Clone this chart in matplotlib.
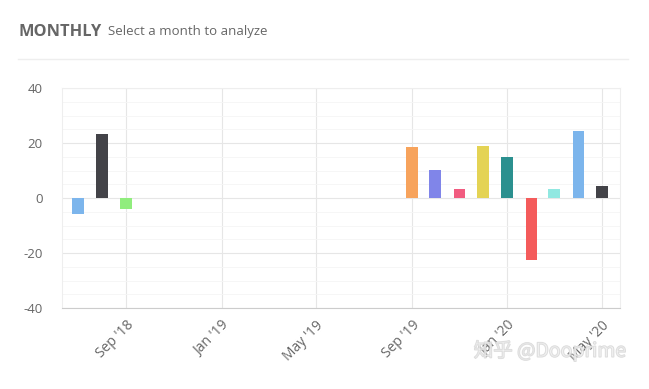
import numpy as np
import matplotlib.pyplot as plt
import matplotlib.dates as mdates
import matplotlib.patheffects as pe
from datetime import date, timedelta

# monthly returns (%)
months = ["2018-07", "2018-08", "2018-09",
          "2019-09", "2019-10", "2019-11", "2019-12",
          "2020-01", "2020-02", "2020-03", "2020-04", "2020-05"]
values = [-5.8, 23.3, -4.1,
          18.7, 10.2, 3.4, 18.9,
          14.9, -22.5, 3.4, 24.4, 4.4]
colors = ["#7cb5ec", "#434348", "#90ed7d",
          "#f7a35c", "#8085e9", "#f15c80", "#e4d354",
          "#2b908f", "#f45b5b", "#91e8e1", "#7cb5ec", "#434348"]
tick_months = ["2018-09", "2019-01", "2019-05", "2019-09", "2020-01", "2020-05"]
tick_labels = ["Sep '18", "Jan '19", "May '19", "Sep '19", "Jan '20", "May '20"]

plt.rcParams['font.family'] = ['Open Sans', 'DejaVu Sans']
plt.rcParams['axes.unicode_minus'] = False


def to_date(s):
    y, m = s.split("-")
    return date(int(y), int(m), 1)


xs = mdates.date2num([to_date(m) for m in months])
ticks = mdates.date2num([to_date(m) for m in tick_months])

fig = plt.figure(figsize=(6.49, 3.89), dpi=100)
ax = fig.add_axes([62 / 649, 1 - 308 / 389, (620 - 62) / 649, (308 - 88) / 389])

ax.bar(xs, values, width=15, color=colors, zorder=3)

ax.set_xlim(mdates.date2num(date(2018, 9, 1) - timedelta(days=82)),
            mdates.date2num(date(2020, 5, 24)))
ax.set_ylim(-40, 40)
ax.set_yticks([-40, -20, 0, 20, 40])
ax.set_yticks(np.arange(-40, 41, 5), minor=True)
ax.set_xticks(ticks)
ax.set_xticklabels(tick_labels, rotation=45, ha="right", rotation_mode="anchor")

ax.grid(True, which="major", color="#e6e6e6", lw=0.8, zorder=0)
ax.grid(True, which="minor", axis="y", color="#f5f5f5", lw=0.6, zorder=0)
ax.tick_params(axis="both", which="both", length=0, colors="#666666")
ax.tick_params(axis="y", pad=14, labelsize=9.5)
ax.tick_params(axis="x", pad=7, labelsize=10)
for side in ["left", "right", "top"]:
    ax.spines[side].set_color("#eeeeee")
    ax.spines[side].set_linewidth(0.8)
ax.spines["bottom"].set_color("#cccccc")

# header
fig.text(18 / 649, 1 - 32 / 389, "MONTHLY", fontsize=11.8, fontweight="bold",
         color="#666666", va="center")
fig.text(108 / 649, 1 - 32 / 389, "Select a month to analyze", fontsize=9.5,
         color="#666666", va="center")
fig.add_artist(plt.Line2D([18 / 649, 628 / 649], [1 - 59 / 389] * 2,
                          color="#eeeeee", lw=1))

# watermark, semi-transparent so the tick labels show through
fig.text(550 / 649, 1 - 351 / 389, "知乎 @Dooprime", fontsize=14, color="#ffffff",
         alpha=0.3, ha="center", va="center",
         family=["Noto Sans CJK SC", "DejaVu Sans"],
         path_effects=[pe.withStroke(linewidth=1.0, foreground="#cccccc", alpha=0.7)])

fig.savefig("out.png", dpi=100)
